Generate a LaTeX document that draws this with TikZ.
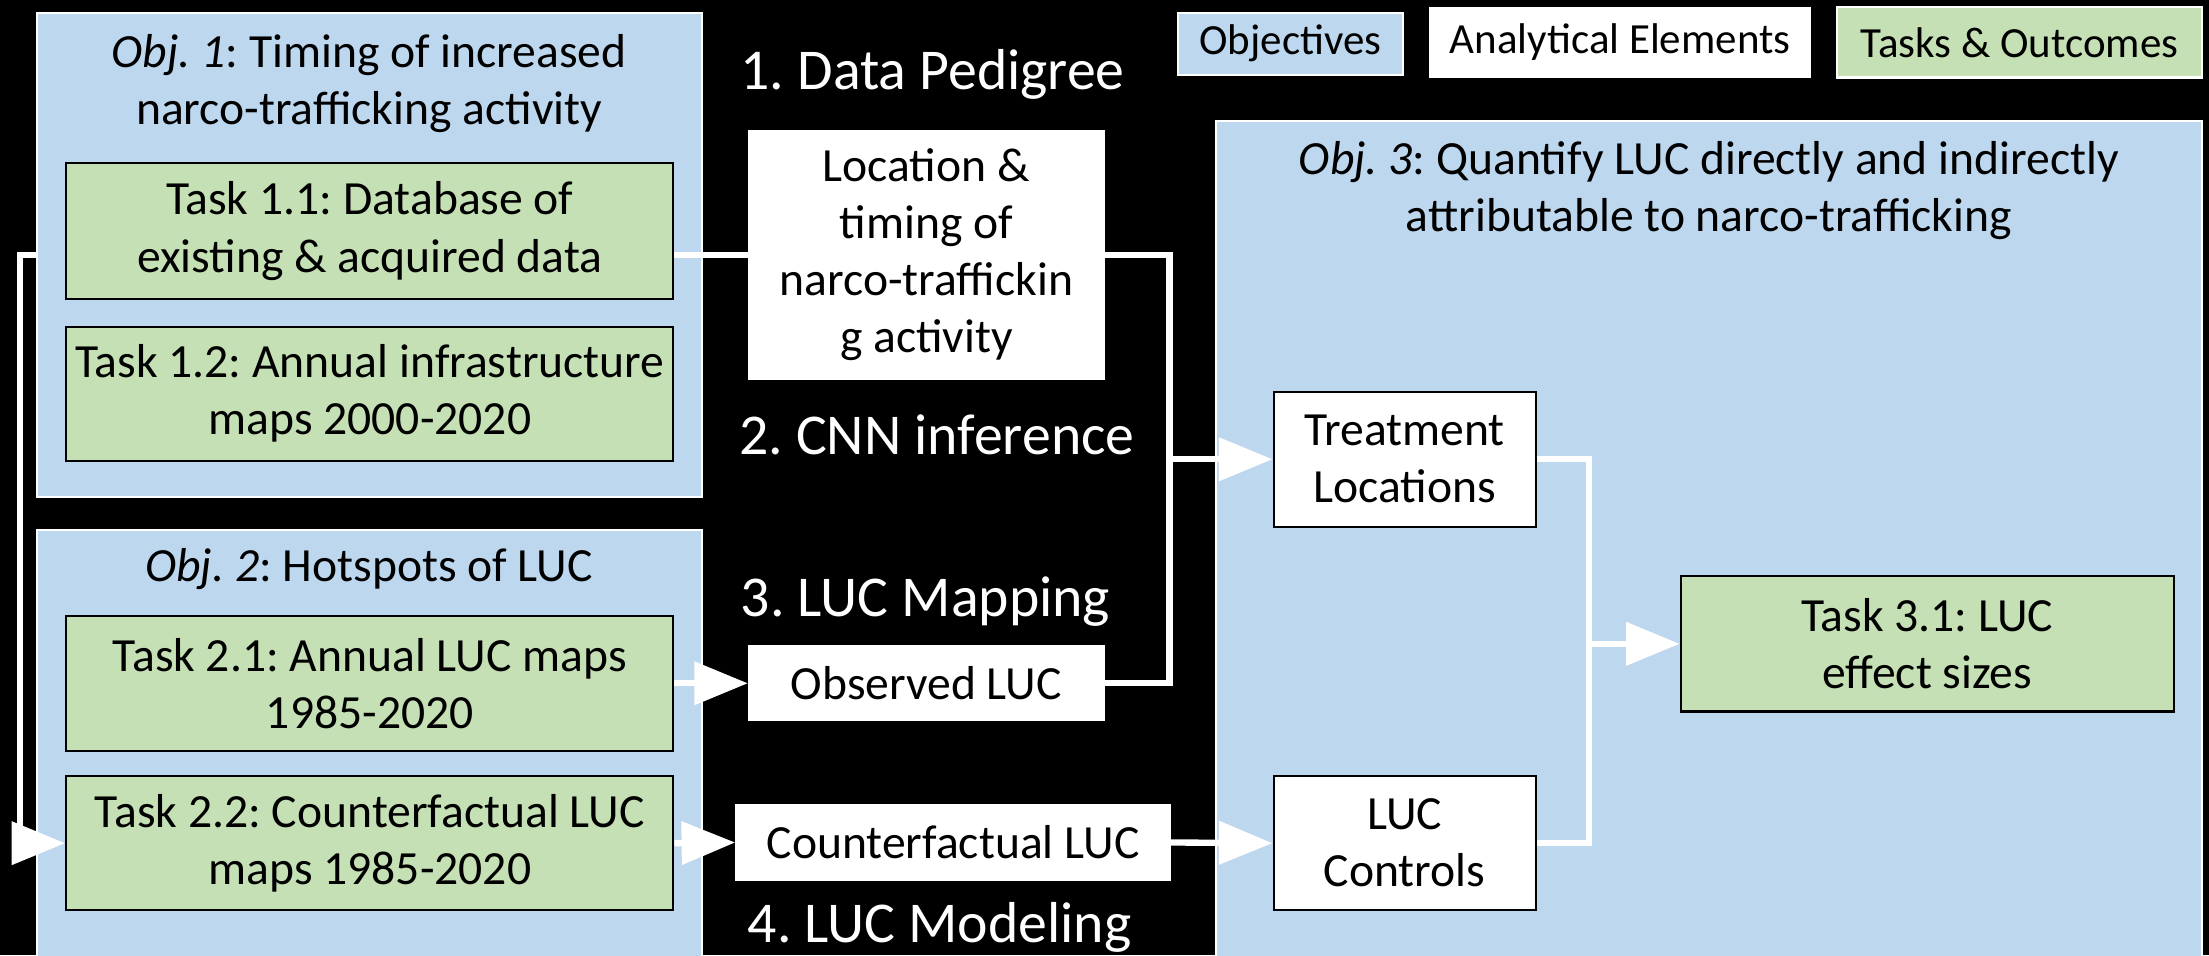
\documentclass[tikz,border=0pt]{standalone}
\usepackage{fontspec}
\setmainfont{Carlito}
\usetikzlibrary{arrows.meta}
\definecolor{objblue}{HTML}{BDD7EE}
\definecolor{taskgreen}{HTML}{C5E0B4}
\frenchspacing
\begin{document}
\frenchspacing
\begin{tikzpicture}[x=1pt,y=-1pt,
  body/.style={font=\fontsize{33.8}{40.5}\selectfont},
  objbox/.style={draw=white,line width=1.5pt,fill=objblue,inner sep=0pt,anchor=center},
  taskbox/.style={draw=black,line width=1.5pt,fill=taskgreen,inner sep=0pt,align=center,body},
  elbox/.style={draw=none,fill=white,inner sep=0pt,align=center,body},
  elboxb/.style={draw=black,line width=1.5pt,fill=white,inner sep=0pt,align=center,body},
  title/.style={inner sep=0pt,align=center,body},
  lab/.style={inner sep=0pt,text=white,font=\fontsize{41}{46}\selectfont},
  legend/.style={inner sep=0pt,font=\fontsize{30.5}{34}\selectfont,line width=1.5pt},
  wl/.style={draw=white,line width=4.5pt},
  wa/.style={draw=white,line width=4.5pt,-{Triangle[length=38pt,width=30pt]}}
]
\clip (0,0) rectangle (1568,678);
\fill[black] (0,0) rectangle (1568,678);

% legend
\node[legend,draw=white,fill=objblue,minimum width=160pt,minimum height=44pt] (legobj) at (916,31) {Objectives};
\node[legend,draw=white,fill=white,minimum width=270pt,minimum height=49pt] (legel) at (1150,30) {Analytical Elements};
\node[legend,draw=white,fill=taskgreen,minimum width=259pt,minimum height=50pt] (legtask) at (1433.5,30) {Tasks \& Outcomes};

% objective boxes
\node[objbox,minimum width=472pt,minimum height=344pt] (obj1) at (262,181) {};
\node[objbox,minimum width=472pt,minimum height=324pt] (obj2) at (262,538) {};
\node[objbox,minimum width=700pt,minimum height=614pt] (obj3) at (1213,393) {};

\node[title] (obj1t) at (262,59) {\textit{Obj. 1}: Timing of increased\\narco-trafficking activity};
\node[title] (obj2t) at (262,404) {\textit{Obj. 2}: Hotspots of LUC};
\node[title] (obj3t) at (1213,135) {\textit{Obj. 3}: Quantify LUC directly and indirectly\\attributable to narco-trafficking};

% task boxes
\node[taskbox,minimum width=431pt,minimum height=96pt] (t11) at (262.5,164) {Task 1.1: Database of\\existing \& acquired data};
\node[taskbox,minimum width=431pt,minimum height=95pt] (t12) at (262.5,279.5) {Task 1.2: Annual infrastructure\\maps 2000-2020};
\node[taskbox,minimum width=431pt,minimum height=96pt] (t21) at (262.5,485) {Task 2.1: Annual LUC maps\\1985-2020};
\node[taskbox,minimum width=431pt,minimum height=95pt] (t22) at (262.5,598.5) {Task 2.2: Counterfactual LUC\\maps 1985-2020};
\node[taskbox,minimum width=350pt,minimum height=96pt] (t31) at (1368,457) {Task 3.1: LUC\\effect sizes};

% analytical elements
\node[elbox,minimum width=253pt,minimum height=178pt] (loc) at (657.5,181) {Location \&\\timing of\\narco-traffickin\\g activity};
\node[elbox,minimum width=253pt,minimum height=54pt] (obs) at (657.5,485) {Observed LUC};
\node[elbox,minimum width=309pt,minimum height=54pt] (cf) at (676.5,598) {Counterfactual LUC};
\node[elboxb,minimum width=186pt,minimum height=96pt] (treat) at (997,326) {Treatment\\Locations};
\node[elboxb,minimum width=186pt,minimum height=95pt] (ctrl) at (997,598.5) {LUC\\Controls};

% stage labels
\node[lab] (l1) at (662,53) {1. Data Pedigree};
\node[lab] (l2) at (665,309) {2. CNN inference};
\node[lab] (l3) at (657,427) {3. LUC Mapping};
\node[lab] (l4) at (667,658) {4. LUC Modeling};

% connectors
\draw[wl] (t11.east |- loc.west) -- (loc.west);
\draw[wl] (loc.east) -- ++(46,0) coordinate (b1) |- (obs.east);
\draw[wa] (b1 |- treat.west) -- (treat.west);
\draw[wa] (t21.east) -- (obs.west);
\draw[wa] (t22.east) -- (cf.west);
\draw[wa] (cf.east) -- (ctrl.west);
\draw[wl] (treat.east) -- ++(37,0) coordinate (b2) |- (ctrl.east);
\draw[wa] (b2 |- t31.west) -- (t31.west);
\draw[wa] (obj1.west |- loc.west) -- ++(-11,0) coordinate (b3) |- (t22.west);
\end{tikzpicture}
\end{document}
